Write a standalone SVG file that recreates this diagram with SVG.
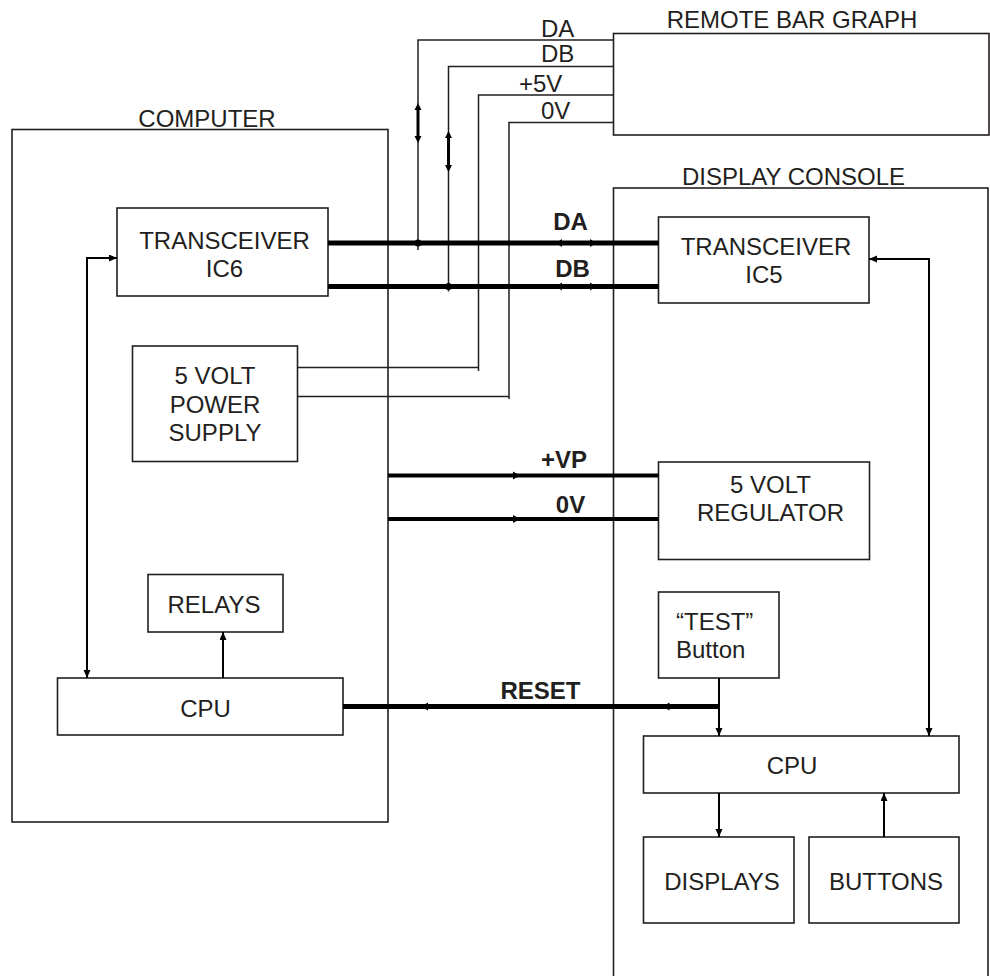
<svg xmlns="http://www.w3.org/2000/svg" width="990" height="976" viewBox="0 0 990 976">
<style>
  .box{fill:none;stroke:#231f20;stroke-width:1.6}
  .t{font-family:"Liberation Sans",Arial,sans-serif;font-size:24px;fill:#231f20}
  .c{text-anchor:middle}
  .b{font-weight:bold}
  .thin{fill:none;stroke:#231f20;stroke-width:1.5}
  .wire{fill:none;stroke:#000;stroke-width:2}
  .bus{fill:none;stroke:#000;stroke-width:5}
  .bus4{fill:none;stroke:#000;stroke-width:4}
  .ah{fill:#000;stroke:none}
</style>
<defs>
  <marker id="arr" markerUnits="userSpaceOnUse" markerWidth="9" markerHeight="8" refX="8" refY="3.5" orient="auto">
    <path d="M0,0 L8,3.5 L0,7 z" fill="#000"/>
  </marker>
</defs>
<rect width="990" height="976" fill="#fff"/>

<g id="computer">
  <rect class="box" x="12" y="129.5" width="376" height="692.5"/>
  <text class="t c" x="207" y="127">COMPUTER</text>
</g>
<g id="remote-bar-graph">
  <rect class="box" x="613.5" y="33.5" width="375.5" height="101.5"/>
  <text class="t c" x="792" y="28">REMOTE BAR GRAPH</text>
</g>
<g id="display-console">
  <rect class="box" x="613.5" y="188" width="374.5" height="820"/>
  <text class="t c" x="793.5" y="185">DISPLAY CONSOLE</text>
</g>
<g id="transceiver-ic6">
  <rect class="box" x="117" y="208" width="211" height="88"/>
  <text class="t c" x="224.5" y="249">TRANSCEIVER</text>
  <text class="t c" x="224.5" y="277">IC6</text>
</g>
<g id="power-supply">
  <rect class="box" x="132.5" y="346" width="165" height="115.5"/>
  <text class="t c" x="215" y="384">5 VOLT</text>
  <text class="t c" x="215" y="412.5">POWER</text>
  <text class="t c" x="215" y="440.5">SUPPLY</text>
</g>
<g id="relays">
  <rect class="box" x="148" y="574.5" width="135" height="57.5"/>
  <text class="t c" x="214" y="613">RELAYS</text>
</g>
<g id="cpu-computer">
  <rect class="box" x="57.5" y="678" width="285.5" height="57"/>
  <text class="t c" x="205.5" y="716.5">CPU</text>
</g>
<g id="transceiver-ic5">
  <rect class="box" x="658.5" y="217" width="210.5" height="86"/>
  <text class="t c" x="766" y="255">TRANSCEIVER</text>
  <text class="t c" x="764" y="283">IC5</text>
</g>
<g id="regulator">
  <rect class="box" x="658.5" y="462" width="211" height="97.5"/>
  <text class="t c" x="770.5" y="493">5 VOLT</text>
  <text class="t c" x="770.5" y="521">REGULATOR</text>
</g>
<g id="test-button">
  <rect class="box" x="658.5" y="592" width="120.5" height="86"/>
  <text class="t" x="676" y="630">“TEST”</text>
  <text class="t" x="676" y="658">Button</text>
</g>
<g id="cpu-console">
  <rect class="box" x="643.5" y="736" width="315.5" height="57"/>
  <text class="t c" x="792" y="774">CPU</text>
</g>
<g id="displays">
  <rect class="box" x="643.5" y="837" width="150.5" height="86"/>
  <text class="t c" x="722" y="890">DISPLAYS</text>
</g>
<g id="buttons">
  <rect class="box" x="809" y="837" width="150" height="86"/>
  <text class="t c" x="886" y="890">BUTTONS</text>
</g>

<g id="connectors">
  <!-- remote bar graph wires -->
  <path class="thin" d="M613.5,40 H418 V250"/>
  <path class="thin" d="M613.5,66.5 H448.5 V291.5"/>
  <path class="thin" d="M613.5,95 H478.5 V371"/>
  <path class="thin" d="M613.5,122.5 H509 V399"/>
  <path class="thin" d="M297.5,367.5 H478.5"/>
  <path class="thin" d="M297.5,396.5 H509"/>
  <!-- double arrows on vertical DA/DB -->
  <path stroke="#000" stroke-width="3" d="M418,108 V138"/>
  <path class="ah" d="M418,103 L414.5,110 L421.5,110 z M418,143 L414.5,136 L421.5,136 z"/>
  <path stroke="#000" stroke-width="3" d="M448.5,136 V167"/>
  <path class="ah" d="M448.5,131 L445,138 L452,138 z M448.5,172 L445,165 L452,165 z"/>
  <circle cx="418" cy="243" r="3.5" fill="#000"/>
  <circle cx="448.5" cy="286.5" r="3.5" fill="#000"/>
  <!-- DA / DB buses -->
  <path class="bus" d="M328,243 H658.5"/>
  <path class="bus" d="M328,286.5 H658.5"/>
  <path class="ah" d="M556,243 L562,239 L562,247 z M596,243 L590,239 L590,247 z"/>
  <path class="ah" d="M556,286.5 L562,282.5 L562,290.5 z M596,286.5 L590,282.5 L590,290.5 z"/>
  <text class="t c b" x="570.5" y="230">DA</text>
  <text class="t c b" x="572.5" y="277">DB</text>
  <!-- power buses -->
  <path class="bus4" d="M388,475.5 H658.5"/>
  <path class="bus4" d="M388,519 H658.5"/>
  <path class="ah" d="M520,475.5 L513,471.5 L513,479.5 z M520,519 L513,515 L513,523 z"/>
  <text class="t c b" x="564" y="468">+VP</text>
  <text class="t c b" x="570.5" y="512.5">0V</text>
  <!-- reset -->
  <path class="bus" d="M343,706.5 H719"/>
  <path class="ah" d="M421,706.5 L428,702.5 L428,710.5 z M662.5,706.5 L669.5,702.5 L669.5,710.5 z"/>
  <text class="t c b" x="540.5" y="699">RESET</text>
  <path class="wire" d="M719,678 V736" marker-end="url(#arr)"/>
  <!-- left computer connections -->
  <path class="wire" d="M87,678 V258 H117" marker-end="url(#arr)"/>
  <path class="wire" d="M87,260 V678" marker-end="url(#arr)"/>
  <path class="wire" d="M223,678 V632" marker-end="url(#arr)"/>
  <!-- console connections -->
  <path class="wire" d="M929,736 V259 H869" marker-end="url(#arr)"/>
  <path class="wire" d="M929,261 V736" marker-end="url(#arr)"/>
  <path class="wire" d="M719,793 V837" marker-end="url(#arr)"/>
  <path class="wire" d="M884,837 V793" marker-end="url(#arr)"/>
  <!-- top labels -->
  <text class="t" x="541" y="37">DA</text>
  <text class="t" x="541" y="62">DB</text>
  <text class="t" x="519" y="92">+5V</text>
  <text class="t" x="541" y="119">0V</text>
</g>
</svg>
